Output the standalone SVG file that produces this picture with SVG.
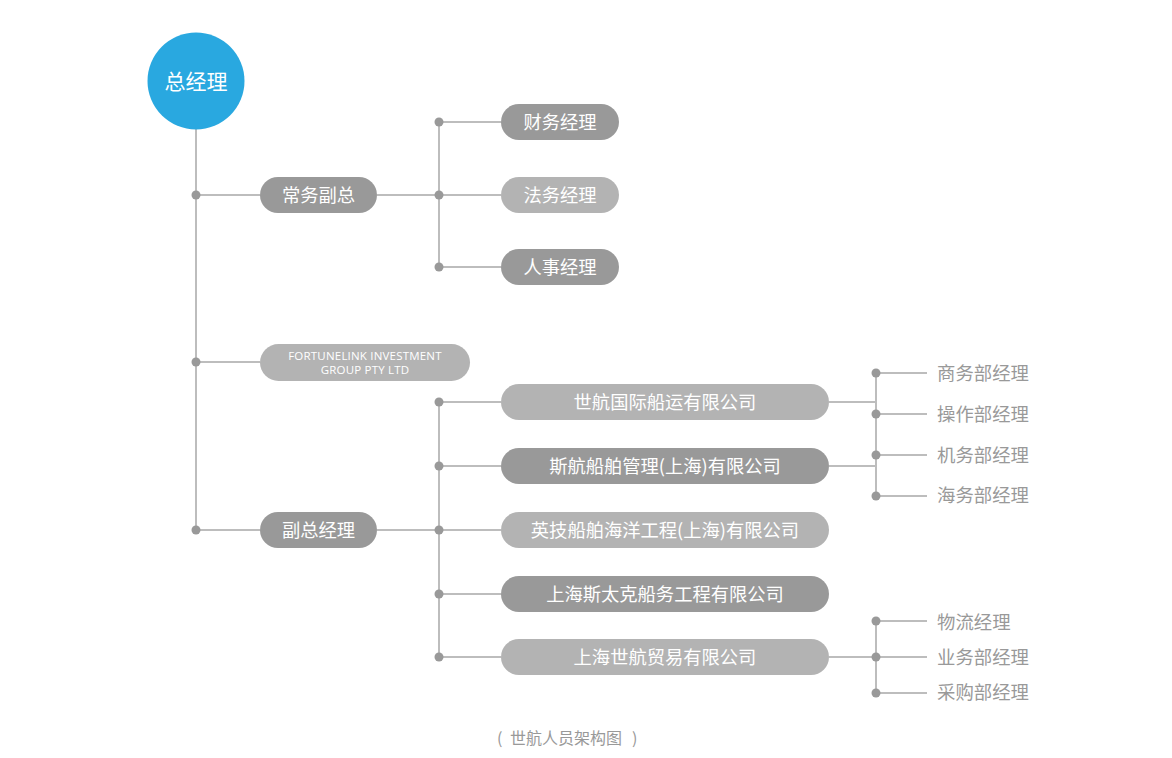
<svg xmlns="http://www.w3.org/2000/svg" width="1172" height="758" viewBox="0 0 1172 758">
<style>
.bg{fill:#ffffff}
.ln{stroke:#bdbdbd;stroke-width:2;fill:none}
.dot{fill:#999999}
.dk{fill:#999999}
.lt{fill:#b3b3b3}
.pt{font-family:"Noto Sans CJK SC","Microsoft YaHei",sans-serif;font-size:18.3px;fill:#ffffff;text-anchor:middle;dominant-baseline:central}
.en{font-family:"Open Sans","Noto Sans",sans-serif;font-size:11.5px;fill:#ffffff;text-anchor:middle;letter-spacing:0.2px}
.lb{font-family:"Noto Sans CJK SC",sans-serif;font-size:18.4px;fill:#999999;dominant-baseline:central}
.cap{font-family:"Noto Sans CJK SC",sans-serif;font-size:16px;fill:#999999;dominant-baseline:central}
</style>
<rect class="bg" x="0" y="0" width="1172" height="758"/>
<g id="connectors">
<path class="ln" d="M196 128V530M196 195H260M196 362H260M196 530H260"/>
<path class="ln" d="M377 195H501M439 122V267M439 122H501M439 267H501"/>
<path class="ln" d="M377 530H439M439 402V657M439 402H501M439 466H501M439 530H501M439 594H501M439 657H501"/>
<path class="ln" d="M829 402H876M829 466H876M876 373V496M876 373H927M876 414H927M876 455H927M876 496H927"/>
<path class="ln" d="M829 657H876M876 621V693M876 621H927M876 657H927M876 693H927"/>
<g class="dot">
<circle cx="196" cy="195" r="4.5"/><circle cx="196" cy="362" r="4.5"/><circle cx="196" cy="530" r="4.5"/>
<circle cx="439" cy="122" r="4.5"/><circle cx="439" cy="195" r="4.5"/><circle cx="439" cy="267" r="4.5"/>
<circle cx="439" cy="402" r="4.5"/><circle cx="439" cy="466" r="4.5"/><circle cx="439" cy="530" r="4.5"/><circle cx="439" cy="594" r="4.5"/><circle cx="439" cy="657" r="4.5"/>
<circle cx="876" cy="373" r="4.5"/><circle cx="876" cy="414" r="4.5"/><circle cx="876" cy="455" r="4.5"/><circle cx="876" cy="496" r="4.5"/>
<circle cx="876" cy="621" r="4.5"/><circle cx="876" cy="657" r="4.5"/><circle cx="876" cy="693" r="4.5"/>
</g>
</g>
<g id="gm"><circle cx="196" cy="81" r="48.5" fill="#29a8e0"/><text class="pt" x="196" y="79.5" style="font-size:21px">总经理</text></g>
<g id="vp1"><rect class="dk" x="260" y="177" width="117" height="36" rx="18"/><text class="pt" x="318.5" y="193.5">常务副总</text></g>
<g id="fin"><rect class="dk" x="501" y="104" width="118" height="36" rx="18"/><text class="pt" x="560" y="120.5">财务经理</text></g>
<g id="law"><rect class="lt" x="501" y="177" width="118" height="36" rx="18"/><text class="pt" x="560" y="193.5">法务经理</text></g>
<g id="hr"><rect class="dk" x="501" y="249" width="118" height="36" rx="18"/><text class="pt" x="560" y="265.5">人事经理</text></g>
<g id="fortune"><rect class="lt" x="260" y="344" width="210" height="37" rx="18.5"/><text class="en" x="365" y="360">FORTUNELINK INVESTMENT</text><text class="en" x="365" y="374">GROUP PTY LTD</text></g>
<g id="vp2"><rect class="dk" x="260" y="512" width="117" height="36" rx="18"/><text class="pt" x="318.5" y="528.5">副总经理</text></g>
<g id="c1"><rect class="lt" x="501" y="384" width="328" height="36" rx="18"/><text class="pt" x="665" y="400.5">世航国际船运有限公司</text></g>
<g id="c2"><rect class="dk" x="501" y="448" width="328" height="36" rx="18"/><text class="pt" x="665" y="464.5">斯航船舶管理(上海)有限公司</text></g>
<g id="c3"><rect class="lt" x="501" y="512" width="328" height="36" rx="18"/><text class="pt" x="665" y="528.5">英技船舶海洋工程(上海)有限公司</text></g>
<g id="c4"><rect class="dk" x="501" y="576" width="328" height="36" rx="18"/><text class="pt" x="665" y="592.5">上海斯太克船务工程有限公司</text></g>
<g id="c5"><rect class="lt" x="501" y="639" width="328" height="36" rx="18"/><text class="pt" x="665" y="655.5">上海世航贸易有限公司</text></g>
<g id="r1"><text class="lb" x="937" y="371.5">商务部经理</text></g>
<g id="r2"><text class="lb" x="937" y="412.5">操作部经理</text></g>
<g id="r3"><text class="lb" x="937" y="453.5">机务部经理</text></g>
<g id="r4"><text class="lb" x="937" y="493.5">海务部经理</text></g>
<g id="r5"><text class="lb" x="937" y="620.5">物流经理</text></g>
<g id="r6"><text class="lb" x="937" y="655.5">业务部经理</text></g>
<g id="r7"><text class="lb" x="937" y="690.5">采购部经理</text></g>
<g id="caption"><text class="cap" y="736.5"><tspan x="497">(</tspan><tspan x="510">世航人员架构图</tspan><tspan x="632">)</tspan></text></g>
</svg>
